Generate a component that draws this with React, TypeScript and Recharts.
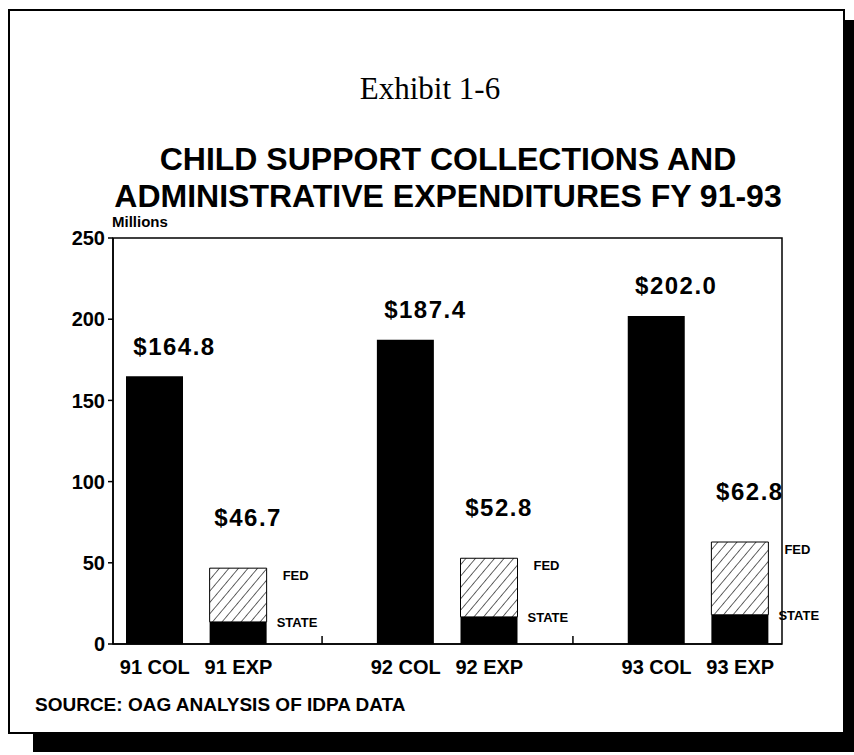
import { BarChart, Bar, XAxis, YAxis, ReferenceArea, LabelList } from 'recharts';

// values (millions of dollars)
const years = ['91', '92', '93'];
const collections = [164.8, 187.4, 202.0];
const expTotal = [46.7, 52.8, 62.8];
const expState = [13.6, 16.7, 18.0];
const yTicks = [0, 50, 100, 150, 200, 250];

// hand placement of the annotations, per year
const colLabelNudge = [{ dx: 20, dy: -30 }, { dx: 15, dy: -42 }, { dx: 4, dy: -44 }];
const expLabelNudge = [{ dx: 10, dy: -51 }, { dx: 2, dy: -39 }, { dx: -7, dy: -50 }];
const fedNudge = [16, 6, 25];
const stateNudge = [10, 1, 16];

const FONT = '"Liberation Sans", Arial, Helvetica, sans-serif';

const data = years.flatMap((yr, i) => {
  const rows: any[] = [
    { name: `${yr} COL`, col: collections[i] },
    { name: `${yr} EXP`, state: expState[i], fed: +(expTotal[i] - expState[i]).toFixed(1), total: expTotal[i] },
  ];
  if (i < years.length - 1) rows.push({ name: `gap-${i}` });
  return rows;
});

const yearOf = (index: number) => Math.floor(index / 3);

const XTick = (props: any) => {
  const { x, y, payload } = props;
  const label: string = payload.value;
  if (label.startsWith('gap')) {
    return <line x1={x} x2={x} y1={y} y2={y - 8} stroke="#000" strokeWidth={1.5} />;
  }
  return (
    <text x={x} y={y + 30} textAnchor="middle" fontFamily={FONT} fontWeight="bold" fontSize={20} fill="#000">
      {label}
    </text>
  );
};

const ValueLabel = (nudges: { dx: number; dy: number }[]) => (props: any) => {
  const { x, y, width, value, index } = props;
  if (value == null) return null;
  const n = nudges[yearOf(index)];
  return (
    <text
      x={x + width / 2 + n.dx}
      y={y + n.dy}
      textAnchor="middle"
      dominantBaseline="central"
      fontFamily={FONT}
      fontWeight="bold"
      fontSize={24}
      letterSpacing={1.5}
      fill="#000"
    >
      {`$${Number(value).toFixed(1)}`}
    </text>
  );
};

const SideLabel = (text: string, nudges: number[], dy: number) => (props: any) => {
  const { x, y, width, value, index } = props;
  if (value == null) return null;
  return (
    <text
      x={x + width + nudges[yearOf(index)]}
      y={y + dy}
      dominantBaseline="central"
      fontFamily={FONT}
      fontWeight="bold"
      fontSize={13}
      fill="#000"
    >
      {text}
    </text>
  );
};

export default function App() {
  return (
    <div style={{ position: 'absolute', left: 0, top: 0, width: 854, height: 755, background: '#fff', overflow: 'hidden' }}>
      {/* drop shadow + frame */}
      <div style={{ position: 'absolute', left: 33, top: 20, width: 821, height: 732, background: '#000' }} />
      <div
        style={{
          position: 'absolute',
          left: 8,
          top: 9,
          width: 837,
          height: 725,
          border: '2px solid #000',
          background: '#fff',
          boxSizing: 'border-box',
        }}
      />

      <div style={{ position: 'absolute', left: 0, top: 0 }}>
        <BarChart width={854} height={755} data={data} margin={{ top: 238, right: 72, bottom: 71, left: 53 }}>
          <defs>
            <pattern id="hatch" width={7.3} height={7.3} patternUnits="userSpaceOnUse" patternTransform="rotate(40)">
              <rect width={7.3} height={7.3} fill="#fff" />
              <line x1={0} y1={0} x2={0} y2={7.3} stroke="#000" strokeWidth={1.2} />
            </pattern>
          </defs>
          <ReferenceArea y1={0} y2={250} fill="none" stroke="#000" strokeWidth={1.5} fillOpacity={0} />
          <XAxis
            dataKey="name"
            height={40}
            tickLine={false}
            tickSize={0}
            tickMargin={0}
            interval={0}
            axisLine={{ stroke: '#000', strokeWidth: 1.5 }}
            tick={<XTick />}
          />
          <YAxis
            width={60}
            domain={[0, 250]}
            ticks={yTicks}
            tickSize={5}
            tickMargin={3}
            axisLine={{ stroke: '#000', strokeWidth: 1.5 }}
            tickLine={{ stroke: '#000', strokeWidth: 1.5 }}
            tick={{ fontFamily: FONT, fontWeight: 'bold', fontSize: 20, fill: '#000' }}
          />
          <Bar dataKey="col" stackId="a" fill="#000" barSize={57} isAnimationActive={false}>
            <LabelList dataKey="col" content={ValueLabel(colLabelNudge)} />
          </Bar>
          <Bar dataKey="state" stackId="a" fill="#000" barSize={57} isAnimationActive={false}>
            <LabelList dataKey="state" content={SideLabel('STATE', stateNudge, 1)} />
          </Bar>
          <Bar dataKey="fed" stackId="a" fill="url(#hatch)" stroke="#000" strokeWidth={1} barSize={57} isAnimationActive={false}>
            <LabelList dataKey="total" content={ValueLabel(expLabelNudge)} />
            <LabelList dataKey="fed" content={SideLabel('FED', fedNudge, 7)} />
          </Bar>
        </BarChart>
      </div>

      <div
        style={{
          position: 'absolute',
          left: 430,
          top: 70,
          transform: 'translateX(-50%)',
          whiteSpace: 'nowrap',
          fontFamily: '"Liberation Serif", "Times New Roman", serif',
          fontSize: 31,
          lineHeight: '38px',
        }}
      >
        Exhibit 1-6
      </div>
      <div
        style={{
          position: 'absolute',
          left: 448,
          top: 141,
          transform: 'translateX(-50%)',
          whiteSpace: 'nowrap',
          textAlign: 'center',
          fontFamily: FONT,
          fontWeight: 'bold',
          fontSize: 32,
          lineHeight: '37px',
        }}
      >
        CHILD SUPPORT COLLECTIONS AND
        <br />
        ADMINISTRATIVE EXPENDITURES FY 91-93
      </div>
      <div
        style={{
          position: 'absolute',
          left: 112,
          top: 212,
          fontFamily: FONT,
          fontWeight: 'bold',
          fontSize: 15,
          lineHeight: '19px',
        }}
      >
        Millions
      </div>
      <div
        style={{
          position: 'absolute',
          left: 35,
          top: 693,
          whiteSpace: 'nowrap',
          fontFamily: FONT,
          fontWeight: 'bold',
          fontSize: 19,
          lineHeight: '24px',
        }}
      >
        SOURCE: OAG ANALYSIS OF IDPA DATA
      </div>
    </div>
  );
}
